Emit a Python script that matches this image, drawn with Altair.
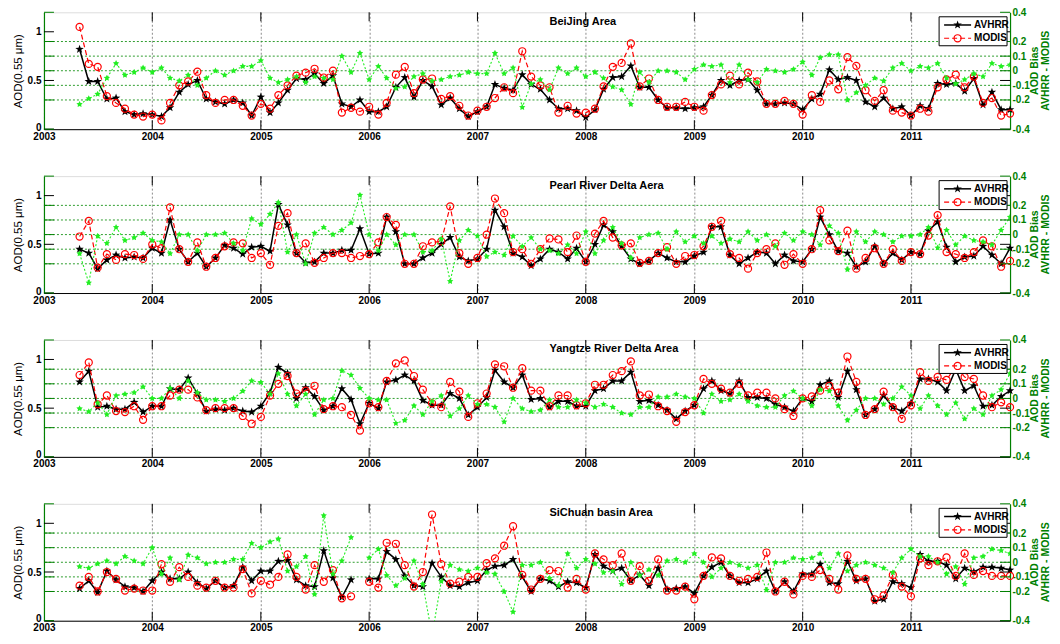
import math
import altair as alt
import pandas as pd

# ---------------- data ----------------
months = [f"{y}-{m:02d}-01" for y in range(2003, 2012) for m in range(1, 13) if (y, m) >= (2003, 5)]
year_ticks = list(range(2003, 2012))
left_ticks = [0, 0.5, 1]
bias_ticks = [-0.4, -0.2, -0.1, 0, 0.1, 0.2, 0.4]
bias_grid = [-0.2, -0.1, 0, 0.1, 0.2]
panel_titles = ["BeiJing Area", "Pearl River Delta Aera", "Yangtze River Delta Area", "SiChuan basin Area"]
series_names = ["AVHRR", "MODIS"]
right_title = ["AOD Bias", "AVHRR - MODIS"]

bj_avhrr = [0.82, 0.49, 0.49, 0.31, 0.32, 0.18, 0.15, 0.16,
            0.15, 0.13, 0.22, 0.38, 0.46, 0.50, 0.31, 0.28, 0.26, 0.30, 0.27, 0.14,
            0.33, 0.17, 0.27, 0.40, 0.52, 0.51, 0.57, 0.47, 0.55, 0.26, 0.23, 0.30,
            0.18, 0.18, 0.23, 0.43, 0.53, 0.33, 0.50, 0.44, 0.25, 0.32, 0.21, 0.13,
            0.18, 0.23, 0.46, 0.42, 0.40, 0.56, 0.46, 0.41, 0.30, 0.21, 0.21, 0.19,
            0.12, 0.20, 0.41, 0.53, 0.54, 0.65, 0.43, 0.43, 0.30, 0.22, 0.22, 0.21,
            0.22, 0.23, 0.35, 0.50, 0.45, 0.50, 0.51, 0.40, 0.26, 0.26, 0.27, 0.26,
            0.20, 0.31, 0.36, 0.61, 0.51, 0.53, 0.50, 0.28, 0.23, 0.32, 0.21, 0.23,
            0.14, 0.24, 0.21, 0.47, 0.46, 0.47, 0.39, 0.52, 0.25, 0.38, 0.20, 0.20]
bj_modis = [1.05, 0.67, 0.64, 0.34, 0.27, 0.21, 0.15, 0.13,
            0.15, 0.09, 0.27, 0.45, 0.49, 0.59, 0.35, 0.27, 0.30, 0.30, 0.24, 0.14,
            0.26, 0.21, 0.35, 0.45, 0.55, 0.58, 0.62, 0.53, 0.60, 0.17, 0.22, 0.18,
            0.23, 0.15, 0.27, 0.56, 0.64, 0.37, 0.51, 0.52, 0.31, 0.34, 0.24, 0.14,
            0.19, 0.23, 0.32, 0.43, 0.37, 0.80, 0.54, 0.45, 0.43, 0.17, 0.24, 0.16,
            0.17, 0.21, 0.44, 0.64, 0.68, 0.88, 0.44, 0.52, 0.30, 0.23, 0.23, 0.28,
            0.23, 0.19, 0.35, 0.46, 0.55, 0.46, 0.58, 0.49, 0.26, 0.26, 0.29, 0.26,
            0.15, 0.35, 0.28, 0.50, 0.41, 0.74, 0.65, 0.40, 0.29, 0.40, 0.19, 0.17,
            0.14, 0.21, 0.18, 0.43, 0.51, 0.56, 0.43, 0.54, 0.27, 0.32, 0.14, 0.16]
bj_bias = [-0.23, -0.19, -0.16, -0.05, 0.05, -0.03, -0.01, 0.02,
           -0.01, 0.02, -0.05, -0.07, -0.03, -0.10, -0.05, 0.00, -0.03, 0.00, 0.03, 0.03,
           0.07, -0.05, -0.08, -0.06, -0.04, -0.08, -0.04, -0.05, -0.06, 0.10, -0.01, 0.12,
           -0.06, 0.03, -0.05, -0.12, -0.11, -0.04, -0.02, -0.07, -0.06, -0.04, -0.03, -0.01,
           -0.02, -0.02, 0.12, -0.02, 0.02, -0.25, -0.09, -0.06, -0.13, 0.02, -0.02, 0.02,
           -0.04, -0.01, -0.05, -0.11, -0.13, -0.23, -0.01, -0.08, 0.00, 0.00, -0.01, -0.06,
           0.01, 0.04, 0.03, 0.04, -0.08, 0.04, -0.06, -0.08, 0.01, 0.00, -0.01, 0.01,
           0.06, -0.03, 0.09, 0.11, 0.11, -0.20, -0.15, -0.10, -0.05, -0.07, 0.02, 0.05,
           0.00, 0.03, 0.02, 0.05, -0.05, -0.09, -0.06, -0.02, -0.04, 0.05, 0.03, 0.04]

prd_avhrr = [0.45, 0.41, 0.25, 0.34, 0.39, 0.36, 0.37, 0.36,
             0.46, 0.41, 0.75, 0.45, 0.32, 0.41, 0.27, 0.36, 0.49, 0.46, 0.40, 0.47,
             0.48, 0.43, 0.91, 0.70, 0.41, 0.31, 0.32, 0.41, 0.41, 0.44, 0.44, 0.66,
             0.40, 0.41, 0.78, 0.63, 0.30, 0.30, 0.36, 0.41, 0.50, 0.57, 0.37, 0.33,
             0.35, 0.45, 0.85, 0.68, 0.41, 0.37, 0.28, 0.35, 0.45, 0.42, 0.35, 0.46,
             0.32, 0.50, 0.70, 0.63, 0.48, 0.35, 0.30, 0.33, 0.41, 0.36, 0.32, 0.32,
             0.38, 0.42, 0.68, 0.68, 0.39, 0.30, 0.36, 0.42, 0.41, 0.30, 0.39, 0.33,
             0.32, 0.45, 0.78, 0.60, 0.43, 0.41, 0.27, 0.32, 0.48, 0.30, 0.41, 0.34,
             0.42, 0.40, 0.64, 0.73, 0.47, 0.32, 0.37, 0.38, 0.48, 0.39, 0.30, 0.46]
prd_modis = [0.58, 0.74, 0.26, 0.40, 0.34, 0.40, 0.39, 0.35,
             0.50, 0.46, 0.88, 0.45, 0.32, 0.52, 0.27, 0.36, 0.48, 0.52, 0.51, 0.36,
             0.41, 0.29, 0.69, 0.82, 0.41, 0.51, 0.31, 0.36, 0.41, 0.41, 0.36, 0.38,
             0.40, 0.52, 0.78, 0.70, 0.30, 0.30, 0.48, 0.52, 0.53, 0.89, 0.41, 0.30,
             0.36, 0.60, 0.97, 0.82, 0.42, 0.45, 0.30, 0.45, 0.56, 0.55, 0.42, 0.59,
             0.32, 0.61, 0.74, 0.57, 0.49, 0.51, 0.31, 0.33, 0.41, 0.47, 0.30, 0.38,
             0.39, 0.48, 0.68, 0.74, 0.40, 0.36, 0.25, 0.41, 0.45, 0.51, 0.29, 0.40,
             0.30, 0.45, 0.85, 0.54, 0.43, 0.64, 0.25, 0.36, 0.46, 0.30, 0.45, 0.33,
             0.42, 0.40, 0.59, 0.80, 0.42, 0.40, 0.36, 0.42, 0.54, 0.48, 0.27, 0.33]
prd_bias = [-0.13, -0.33, -0.01, -0.06, 0.05, -0.04, -0.02, 0.01,
            -0.04, -0.05, -0.13, 0.00, 0.00, -0.11, 0.00, 0.00, 0.01, -0.06, -0.11, 0.11,
            0.07, 0.14, 0.22, -0.12, 0.00, -0.20, 0.01, 0.05, 0.00, 0.03, 0.08, 0.27,
            0.00, -0.11, 0.00, -0.07, 0.00, 0.00, -0.12, -0.11, -0.03, -0.32, -0.04, 0.03,
            -0.01, -0.15, -0.12, -0.14, -0.01, -0.08, -0.02, -0.10, -0.11, -0.13, -0.07, -0.13,
            0.02, -0.13, -0.04, 0.05, -0.06, -0.16, -0.02, 0.00, 0.01, -0.10, 0.02, -0.05,
            -0.01, -0.06, -0.01, -0.06, -0.03, -0.05, 0.02, -0.04, 0.00, -0.08, 0.01, -0.04,
            0.02, 0.00, -0.07, 0.06, 0.01, -0.24, 0.02, -0.05, 0.02, 0.00, -0.05, -0.01,
            -0.01, 0.00, 0.05, -0.09, 0.03, -0.07, -0.01, -0.04, -0.05, -0.07, 0.03, 0.12]

yrd_avhrr = [0.77, 0.88, 0.51, 0.52, 0.49, 0.49, 0.56, 0.46,
             0.52, 0.52, 0.70, 0.69, 0.81, 0.65, 0.47, 0.49, 0.48, 0.50, 0.47, 0.46,
             0.52, 0.66, 0.92, 0.86, 0.60, 0.71, 0.62, 0.48, 0.52, 0.70, 0.59, 0.34,
             0.55, 0.50, 0.77, 0.79, 0.84, 0.78, 0.58, 0.53, 0.53, 0.65, 0.60, 0.43,
             0.51, 0.61, 0.89, 0.77, 0.71, 0.84, 0.59, 0.60, 0.51, 0.57, 0.57, 0.52,
             0.52, 0.68, 0.70, 0.78, 0.78, 0.87, 0.57, 0.58, 0.53, 0.48, 0.39, 0.47,
             0.53, 0.70, 0.78, 0.68, 0.65, 0.78, 0.61, 0.61, 0.60, 0.54, 0.51, 0.47,
             0.60, 0.57, 0.74, 0.78, 0.61, 0.88, 0.69, 0.43, 0.49, 0.63, 0.51, 0.47,
             0.55, 0.80, 0.80, 0.77, 0.68, 0.90, 0.68, 0.73, 0.52, 0.53, 0.62, 0.68]
yrd_modis = [0.84, 0.97, 0.54, 0.63, 0.47, 0.46, 0.52, 0.38,
             0.52, 0.52, 0.63, 0.69, 0.69, 0.61, 0.48, 0.50, 0.50, 0.50, 0.42, 0.34,
             0.41, 0.63, 0.75, 0.83, 0.65, 0.68, 0.73, 0.49, 0.52, 0.51, 0.43, 0.27,
             0.55, 0.51, 0.78, 0.96, 0.99, 0.83, 0.69, 0.55, 0.51, 0.77, 0.67, 0.41,
             0.55, 0.65, 0.95, 0.93, 0.71, 0.91, 0.68, 0.68, 0.52, 0.63, 0.63, 0.53,
             0.55, 0.74, 0.74, 0.84, 0.88, 0.98, 0.63, 0.64, 0.52, 0.47, 0.36, 0.46,
             0.53, 0.80, 0.75, 0.70, 0.66, 0.75, 0.63, 0.66, 0.66, 0.60, 0.49, 0.42,
             0.60, 0.62, 0.68, 0.73, 0.66, 1.03, 0.77, 0.43, 0.49, 0.67, 0.51, 0.39,
             0.53, 0.87, 0.78, 0.82, 0.79, 0.93, 0.82, 0.80, 0.63, 0.51, 0.56, 0.51]
yrd_bias = [-0.07, -0.09, -0.03, -0.11, 0.02, 0.03, 0.04, 0.08,
            0.00, 0.00, 0.07, 0.00, 0.12, 0.04, -0.01, -0.01, -0.02, 0.00, 0.05, 0.12,
            0.11, 0.03, 0.17, 0.03, -0.05, 0.03, -0.11, -0.01, 0.00, 0.19, 0.16, 0.07,
            0.00, -0.01, -0.01, -0.17, -0.15, -0.05, -0.11, -0.02, 0.02, -0.12, -0.07, 0.02,
            -0.04, -0.04, -0.06, -0.16, 0.00, -0.07, -0.09, -0.08, -0.01, -0.06, -0.06, -0.01,
            -0.03, -0.06, -0.04, -0.06, -0.10, -0.11, -0.06, -0.06, 0.01, 0.01, 0.03, 0.01,
            0.00, -0.10, 0.03, -0.02, -0.01, 0.03, -0.02, -0.05, -0.06, -0.06, 0.02, 0.05,
            0.00, -0.05, 0.06, 0.05, -0.05, -0.15, -0.08, 0.00, 0.00, -0.04, 0.00, 0.08,
            0.02, -0.07, 0.02, -0.05, -0.11, -0.03, -0.14, -0.07, -0.11, 0.02, 0.06, 0.17]

sc_avhrr = [0.33, 0.41, 0.29, 0.51, 0.42, 0.35, 0.34, 0.30,
            0.41, 0.50, 0.43, 0.43, 0.50, 0.39, 0.33, 0.41, 0.34, 0.36, 0.55, 0.41,
            0.51, 0.51, 0.61, 0.62, 0.42, 0.36, 0.35, 0.72, 0.44, 0.24, 0.42, None,
            0.43, 0.43, 0.71, 0.63, 0.46, 0.36, 0.35, 0.59, 0.45, 0.36, 0.35, 0.39,
            0.41, 0.52, 0.56, 0.57, 0.63, 0.45, 0.30, 0.43, 0.41, 0.35, 0.40, 0.39,
            0.34, 0.68, 0.56, 0.51, 0.54, 0.41, 0.47, 0.36, 0.54, 0.32, 0.33, 0.35,
            0.28, 0.46, 0.55, 0.60, 0.46, 0.39, 0.39, 0.43, 0.51, 0.30, 0.40, 0.30,
            0.48, 0.48, 0.58, 0.39, 0.38, 0.61, 0.41, 0.43, 0.20, 0.22, 0.40, 0.38,
            0.34, 0.68, 0.61, 0.61, 0.57, 0.43, 0.54, 0.50, 0.55, 0.55, 0.54, 0.52]
sc_modis = [0.36, 0.45, 0.30, 0.50, 0.43, 0.31, 0.33, 0.31,
            0.31, 0.58, 0.40, 0.55, 0.45, 0.36, 0.34, 0.41, 0.34, 0.34, 0.53, 0.28,
            0.41, 0.37, 0.45, 0.68, 0.45, 0.32, 0.57, 0.40, 0.52, 0.23, 0.25, None,
            0.40, 0.34, 0.80, 0.79, 0.57, 0.35, 0.50, 1.09, 0.58, 0.38, 0.40, 0.45,
            0.45, 0.59, 0.64, 0.77, 0.97, 0.47, 0.32, 0.43, 0.52, 0.51, 0.34, 0.43,
            0.32, 0.69, 0.63, 0.57, 0.69, 0.41, 0.56, 0.41, 0.63, 0.31, 0.31, 0.35,
            0.22, 0.46, 0.65, 0.64, 0.46, 0.41, 0.43, 0.45, 0.70, 0.30, 0.40, 0.27,
            0.46, 0.45, 0.52, 0.43, 0.32, 0.67, 0.43, 0.43, 0.22, 0.26, 0.47, 0.35,
            0.25, 0.64, 0.57, 0.61, 0.65, 0.46, 0.69, 0.47, 0.51, 0.46, 0.46, 0.46]
sc_bias = [-0.03, -0.04, -0.01, 0.01, -0.01, 0.04, 0.01, -0.01,
           0.10, -0.08, 0.03, -0.12, 0.05, 0.03, -0.01, 0.00, 0.00, 0.02, 0.02, 0.13,
           0.10, 0.14, 0.16, -0.06, -0.03, 0.04, -0.22, 0.32, -0.08, 0.01, 0.17, None,
           0.03, 0.09, -0.09, -0.16, -0.11, 0.01, -0.15, -0.50, -0.13, -0.02, -0.05, -0.06,
           -0.04, -0.07, -0.08, -0.20, -0.34, -0.02, -0.02, 0.00, -0.11, -0.16, 0.06, -0.04,
           0.02, -0.01, -0.07, -0.06, -0.15, 0.00, -0.09, -0.05, -0.09, 0.01, 0.02, 0.00,
           0.06, 0.00, -0.10, -0.04, 0.00, -0.02, -0.04, -0.02, -0.19, 0.00, 0.00, 0.03,
           0.02, 0.03, 0.06, -0.04, 0.06, -0.06, -0.02, 0.00, -0.02, -0.04, -0.07, 0.03,
           0.09, 0.04, 0.04, 0.00, -0.08, -0.03, -0.15, 0.03, 0.04, 0.09, 0.08, 0.06]

panels_data = [
    (panel_titles[0], bj_avhrr, bj_modis, bj_bias),
    (panel_titles[1], prd_avhrr, prd_modis, prd_bias),
    (panel_titles[2], yrd_avhrr, yrd_modis, yrd_bias),
    (panel_titles[3], sc_avhrr, sc_modis, sc_bias),
]

# ---------------- style ----------------
W, H = 967, 117
FONT = "Liberation Sans"
AX_GREEN = "#008000"
GRID_GREEN = "#2f9e2f"
BIAS_GREEN = "#22ee22"
RED = "#ff0000"


def star_path(r_in=0.4):
    pts = []
    for k in range(10):
        r = 1.0 if k % 2 == 0 else r_in
        a = math.radians(-90 + 36 * k)
        pts.append(f"{r * math.cos(a):.3f},{r * math.sin(a):.3f}")
    return "M" + "L".join(pts) + "Z"


STAR = star_path(0.4)
STAR_G = star_path(0.5)


def dt(y, m=1):
    return alt.DateTime(year=y, month=m, date=1, utc=True)


xscale = alt.Scale(type="utc", domain=[dt(2003, 1), dt(2011, 12)])
xaxis = alt.Axis(values=[dt(y) for y in year_ticks], format="%Y", formatType="utc",
                 labelFlush=False, labelFont=FONT, labelFontSize=10, labelFontWeight="bold",
                 labelColor="black", labelPadding=2, ticks=False, domainColor="black",
                 domainWidth=1, grid=True, gridColor="#8c8c8c", gridDash=[2, 2],
                 gridWidth=1, title=None, labelOverlap=False)
lscale = alt.Scale(domain=[0, 1.2], nice=False, zero=False)
laxis = alt.Axis(values=left_ticks, format="~g", ticks=False, grid=False,
                 labelFont=FONT, labelFontSize=10, labelFontWeight="bold", labelColor="black",
                 labelPadding=3, labelFlush=True, labelFlushOffset=3,
                 domainColor=AX_GREEN, domainWidth=1.2,
                 title="AOD(0.55 μm)", titleFont=FONT, titleFontSize=11.5,
                 titleFontWeight="normal", titleColor="black", titlePadding=4)
rscale = alt.Scale(domain=[-0.4, 0.4], nice=False, zero=False)
raxis = alt.Axis(orient="right", values=bias_ticks,
                 labelExpr="datum.value == 0 ? '0' : (datum.value < 0 ? '-' + format(-datum.value, '.1f') : format(datum.value, '.1f'))",
                 ticks=False, grid=False, labelFont=FONT, labelFontSize=10,
                 labelFontWeight="bold", labelColor=AX_GREEN, labelPadding=2,
                 domainColor=AX_GREEN, domainWidth=1.2, title=None, labelOverlap=False)

one = pd.DataFrame({"k": [0]})


def make_panel(title, av, mo, bi):
    df = pd.DataFrame({"date": months, "AVHRR": av, "MODIS": mo, "Bias": bi})
    base = alt.Chart(df)
    X = alt.X("date:T", scale=xscale, axis=xaxis)

    def YL(f):
        return alt.Y(f"{f}:Q", scale=lscale, axis=laxis)

    def YR(f):
        return alt.Y(f"{f}:Q", scale=rscale, axis=raxis)

    grid = alt.Chart(pd.DataFrame({"g": bias_grid})).mark_rule(
        color=GRID_GREEN, strokeDash=[2, 2], strokeWidth=1
    ).encode(y=alt.Y("g:Q", scale=rscale, axis=None))

    tdf = pd.DataFrame({"t": left_ticks})
    left = alt.layer(
        base.mark_line(color="black", strokeWidth=1.5).encode(x=X, y=YL("AVHRR")),
        base.mark_point(shape=STAR, filled=True, color="black", size=80, opacity=1,
                        strokeWidth=0.6).encode(x=X, y=YL("AVHRR")),
        base.mark_line(color=RED, strokeWidth=1.2, strokeDash=[5, 3]).encode(x=X, y=YL("MODIS")),
        base.mark_point(shape="circle", filled=False, color=RED, size=50, opacity=1,
                        strokeWidth=1.2).encode(x=X, y=YL("MODIS")),
        alt.Chart(tdf).mark_rule(color="black", strokeWidth=1).encode(
            y=YL("t"), x=alt.value(0), x2=alt.value(10)),
        alt.Chart(tdf).mark_rule(color="black", strokeWidth=1).encode(
            y=YL("t"), x=alt.value(W - 10), x2=alt.value(W)),
    )

    bdf = pd.DataFrame({"b": bias_ticks})
    right = alt.layer(
        base.mark_line(color=BIAS_GREEN, strokeWidth=1.1, strokeDash=[2, 2], clip=True).encode(
            x=X, y=YR("Bias")),
        base.mark_point(shape=STAR_G, filled=True, color=BIAS_GREEN, size=45, opacity=1,
                        clip=True).encode(x=X, y=YR("Bias")),
        alt.Chart(bdf).mark_rule(color=AX_GREEN, strokeWidth=1).encode(
            y=YR("b"), x=alt.value(0), x2=alt.value(10)),
        alt.Chart(bdf).mark_rule(color=AX_GREEN, strokeWidth=1).encode(
            y=YR("b"), x=alt.value(W - 10), x2=alt.value(W)),
    )

    ydf = pd.DataFrame({"d": [f"{y}-01-01" for y in year_ticks[1:]]})
    XD = alt.X("d:T", scale=xscale, axis=xaxis)
    bx0 = W - 71
    lx0, lx1, lm, ltxt = bx0 + 5, bx0 + 32, bx0 + 18.5, bx0 + 35
    r1, r2 = 12.7, 26
    deco = alt.layer(
        alt.Chart(ydf).mark_rule(color="black", strokeWidth=1).encode(
            x=XD, y=alt.value(H - 9), y2=alt.value(H)),
        alt.Chart(ydf).mark_rule(color="black", strokeWidth=1).encode(
            x=XD, y=alt.value(0), y2=alt.value(9)),
        alt.Chart(one).mark_text(text=title, font=FONT, fontSize=11, fontWeight="bold",
                                 align="left", baseline="middle", color="black").encode(
            x=alt.value(506), y=alt.value(9.5)),
        alt.Chart(one).mark_rect(fill="white", stroke="black", strokeWidth=1).encode(
            x=alt.value(bx0), x2=alt.value(bx0 + 68), y=alt.value(4.5), y2=alt.value(33.5)),
        alt.Chart(one).mark_rule(color="black", strokeWidth=1.5).encode(
            x=alt.value(lx0), x2=alt.value(lx1), y=alt.value(r1)),
        alt.Chart(one).mark_point(shape=STAR, filled=True, color="black", size=80,
                                  opacity=1).encode(x=alt.value(lm), y=alt.value(r1)),
        alt.Chart(one).mark_rule(color=RED, strokeWidth=1.2, strokeDash=[5, 3]).encode(
            x=alt.value(lx0), x2=alt.value(lx1), y=alt.value(r2)),
        alt.Chart(one).mark_point(shape="circle", filled=False, color=RED, size=50,
                                  opacity=1, strokeWidth=1.2).encode(
            x=alt.value(lm), y=alt.value(r2)),
        alt.Chart(one).mark_text(text=series_names[0], font=FONT, fontSize=10,
                                 fontWeight="bold", align="left", baseline="middle",
                                 color="black").encode(x=alt.value(ltxt), y=alt.value(r1)),
        alt.Chart(one).mark_text(text=series_names[1], font=FONT, fontSize=10,
                                 fontWeight="bold", align="left", baseline="middle",
                                 color="black").encode(x=alt.value(ltxt), y=alt.value(r2)),
        alt.Chart(one).mark_text(text=right_title[0], font=FONT, fontSize=10.5,
                                 fontWeight="bold", align="center", baseline="middle",
                                 angle=270, color=AX_GREEN).encode(
            x=alt.value(W + 25), y=alt.value(H / 2)),
        alt.Chart(one).mark_text(text=right_title[1], font=FONT, fontSize=10.5,
                                 fontWeight="bold", align="center", baseline="middle",
                                 angle=270, color=AX_GREEN).encode(
            x=alt.value(W + 35.5), y=alt.value(H / 2)),
    )

    return alt.layer(grid, left, right, deco).resolve_scale(y="independent").properties(
        width=W, height=H)


charts = [make_panel(*p) for p in panels_data]

chart = alt.vconcat(*charts, spacing=47, bounds="flush").properties(
    padding={"left": 3, "top": -2, "right": 0, "bottom": 0}
).configure_view(stroke=None).configure(font=FONT, background="white")

chart.save("out.html", embed_options={"renderer": "svg", "actions": False})
